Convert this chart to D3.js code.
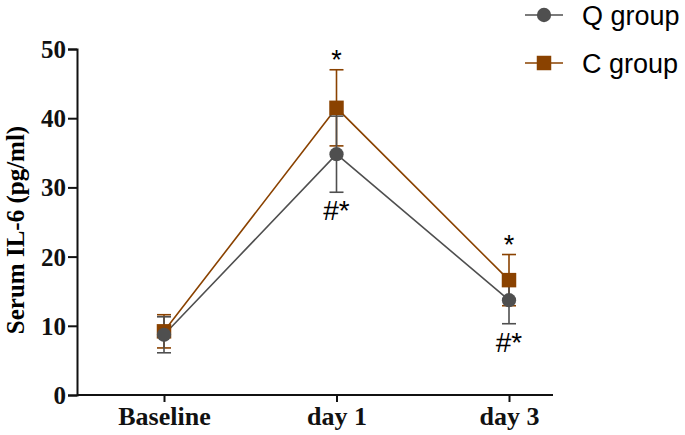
<!DOCTYPE html>
<html>
<head>
<meta charset="utf-8">
<script src="https://cdn.jsdelivr.net/npm/d3@7"></script>
<style>
  body { margin: 0; background: #fff; }
</style>
</head>
<body>
<div id="chart"></div>
<script>
// data
const days = ['Baseline', 'day 1', 'day 3']
const qMean = [8.7, 34.8, 13.7]
const qErr = [2.6, 5.5, 3.4]
const cMean = [9.2, 41.5, 16.6]
const cErr = [2.4, 5.5, 3.7]
const yTicks = [0, 10, 20, 30, 40, 50]
const cAbove = ['', '*', '*']
const qBelow = ['', '#*', '#*']

const W = 685, H = 435
const m = { left: 77, right: 132, top: 49, bottom: 40 }

const svg = d3.select('#chart').append('svg')
  .attr('width', W).attr('height', H)

const x = d3.scalePoint().domain(days).range([164, 509])
const y = d3.scaleLinear().domain([0, 50]).range([H - m.bottom, m.top])

const QCOL = '#4f4f4f'
const CCOL = '#8a4200'
const serif = '"Liberation Serif", "Times New Roman", serif'
const sans = '"Liberation Sans", Arial, sans-serif'

// axes
const yAxis = svg.append('g')
  .attr('transform', `translate(${m.left},0)`)
  .call(d3.axisLeft(y).tickValues(yTicks).tickSize(9).tickPadding(2))
const xAxis = svg.append('g')
  .attr('transform', `translate(0,${H - m.bottom})`)
  .call(d3.axisBottom(x).tickSize(7).tickPadding(5))
// stretch x axis line across the plot
xAxis.select('.domain').attr('d', `M${m.left},0H553`)
;[yAxis, xAxis].forEach(g => {
  g.selectAll('path,line').attr('stroke', '#111').attr('stroke-width', 2)
  g.selectAll('text')
    .attr('font-family', serif)
    .attr('font-weight', 'bold').attr('fill', '#111')
})
yAxis.selectAll('text').attr('dy', '0.34em').attr('font-size', 25)
xAxis.selectAll('text').attr('font-size', 26)

svg.append('text')
  .attr('transform', `translate(24,230) rotate(-90)`)
  .attr('text-anchor', 'middle')
  .attr('font-family', serif)
  .attr('font-weight', 'bold').attr('font-size', 25)
  .text('Serum IL-6 (pg/ml)')

function drawSeries (mean, err, col) {
  const g = svg.append('g')
  const line = d3.line().x((d, i) => x(days[i])).y(d => y(d))
  g.append('path').datum(mean).attr('d', line)
    .attr('fill', 'none').attr('stroke', col).attr('stroke-width', 1.6)
  mean.forEach((v, i) => {
    const cx = x(days[i])
    const hi = y(v + err[i]), lo = y(v - err[i])
    g.append('line').attr('x1', cx).attr('x2', cx).attr('y1', hi).attr('y2', lo)
      .attr('stroke', col).attr('stroke-width', 1.6)
    ;[hi, lo].forEach(yy => {
      g.append('line').attr('x1', cx - 7).attr('x2', cx + 7).attr('y1', yy).attr('y2', yy)
        .attr('stroke', col).attr('stroke-width', 1.6)
    })
  })
}

function drawMarkers (mean, col, shape, size) {
  const sym = d3.symbol().type(shape).size(size)
  svg.append('g').selectAll('path').data(mean).join('path')
    .attr('d', sym)
    .attr('transform', (d, i) => `translate(${x(days[i])},${y(d)})`)
    .attr('fill', col)
}

drawSeries(cMean, cErr, CCOL)
drawSeries(qMean, qErr, QCOL)
drawMarkers(cMean, CCOL, d3.symbolSquare, 210)
drawMarkers(qMean, QCOL, d3.symbolCircle, 160)

// significance marks
svg.append('g').selectAll('text').data(cAbove).join('text')
  .attr('x', (d, i) => x(days[i]))
  .attr('y', (d, i) => y(cMean[i] + cErr[i]) - 1)
  .attr('text-anchor', 'middle')
  .attr('font-family', sans).attr('font-size', 27)
  .text(d => d)
svg.append('g').selectAll('text').data(qBelow).join('text')
  .attr('x', (d, i) => x(days[i]))
  .attr('y', (d, i) => y(qMean[i] - qErr[i]) + 28)
  .attr('text-anchor', 'middle')
  .attr('font-family', sans).attr('font-size', 28)
  .text(d => d)

// legend
const legend = [
  { name: 'Q group', col: QCOL, shape: d3.symbolCircle, size: 160 },
  { name: 'C group', col: CCOL, shape: d3.symbolSquare, size: 210 }
]
const lg = svg.append('g').selectAll('g').data(legend).join('g')
  .attr('transform', (d, i) => `translate(544,${15 + i * 48})`)
lg.append('line').attr('x1', -19).attr('x2', 19)
  .attr('stroke', d => d.col).attr('stroke-width', 1.6)
lg.append('path').attr('d', d => d3.symbol().type(d.shape).size(d.size)())
  .attr('fill', d => d.col)
lg.append('text').attr('x', 38).attr('dy', '0.36em')
  .attr('font-family', sans).attr('font-size', 27)
  .text(d => d.name)
</script>
</body>
</html>
